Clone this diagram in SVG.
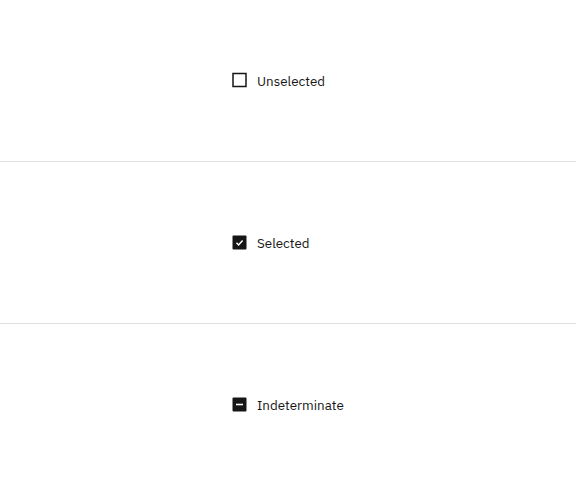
<svg xmlns="http://www.w3.org/2000/svg" width="576" height="485" viewBox="0 0 576 485">
<style>
.lbl{font-family:"IBM Plex Sans","Noto Sans","Liberation Sans",sans-serif;font-size:13.4px;fill:#161616}
.sep{stroke:#e0e0e0;stroke-width:1}
</style>
<rect width="576" height="485" fill="#ffffff"/>
<g id="separators">
<line class="sep" x1="0" y1="161.5" x2="576" y2="161.5"/>
<line class="sep" x1="0" y1="323.5" x2="576" y2="323.5"/>
</g>
<g id="unselected">
<rect x="233" y="73.5" width="13" height="13" fill="none" stroke="#161616" stroke-width="1.5"/>
<text class="lbl" x="257" y="85.5">Unselected</text>
</g>
<g id="selected">
<rect x="232.5" y="235.5" width="14" height="14" rx="1" fill="#161616"/>
<path d="M236.5 242.8 L238.6 245 L242.6 240.4" fill="none" stroke="#ffffff" stroke-width="1.5"/>
<text class="lbl" x="257" y="247.5">Selected</text>
</g>
<g id="indeterminate">
<rect x="232.5" y="397.5" width="14" height="14" rx="1" fill="#161616"/>
<rect x="236" y="403.7" width="7" height="1.6" fill="#ffffff"/>
<text class="lbl" x="257" y="409.5">Indeterminate</text>
</g>
</svg>
